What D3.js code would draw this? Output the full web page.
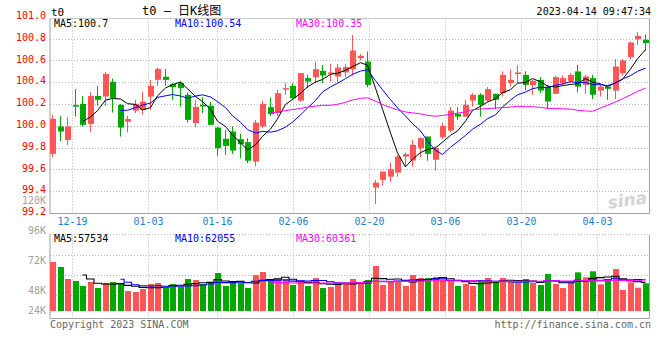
<!DOCTYPE html>
<html><head><meta charset="utf-8">
<script src="https://cdn.jsdelivr.net/npm/d3@7/dist/d3.min.js"></script>
<style>
html,body{margin:0;padding:0;background:#fff;}
svg{display:block;}
text{font-family:"DejaVu Sans Mono",monospace;font-size:10px;}
</style></head>
<body>
<svg id="c" width="660" height="360"></svg>
<script>
// ---------- data ----------
const opens  = [99.743,99.994,99.871,100.190,100.202,100.018,100.275,100.269,100.404,100.193,
  100.039,100.140,100.147,100.269,100.422,100.450,100.383,100.392,100.285,100.025,
  100.193,100.184,99.984,99.881,99.948,99.878,99.850,99.672,99.994,100.171,
  100.117,100.340,100.367,100.232,100.438,100.447,100.505,100.485,100.453,100.490,
  100.520,100.621,100.590,99.433,99.504,99.534,99.571,99.718,99.681,99.795,
  99.902,99.688,99.896,99.957,100.110,100.085,100.232,100.285,100.232,100.294,
  100.300,100.392,100.475,100.468,100.373,100.422,100.360,100.294,100.392,100.413,
  100.499,100.376,100.438,100.324,100.360,100.324,100.484,100.631,100.796,100.790];
const highs  = [100.101,100.092,100.080,100.337,100.275,100.310,100.367,100.496,100.434,100.200,
  100.092,100.239,100.312,100.422,100.535,100.520,100.392,100.404,100.306,100.236,
  100.263,100.220,99.990,99.963,99.994,99.927,99.887,100.055,100.230,100.260,
  100.330,100.392,100.392,100.484,100.468,100.588,100.560,100.570,100.567,100.565,
  100.836,100.660,100.682,99.504,99.580,99.663,99.734,99.755,99.871,99.896,
  99.902,99.810,100.030,100.171,100.171,100.239,100.300,100.300,100.355,100.294,
  100.500,100.520,100.557,100.500,100.422,100.447,100.376,100.459,100.462,100.484,
  100.560,100.468,100.468,100.376,100.360,100.612,100.612,100.774,100.863,100.836];
const lows   = [99.709,99.862,99.826,100.085,99.994,99.945,100.184,100.184,100.122,99.902,
  99.939,100.117,100.101,100.147,100.367,100.367,100.239,100.175,100.030,99.987,
  100.117,100.009,99.725,99.734,99.743,99.703,99.657,99.626,99.979,100.090,
  100.090,100.285,100.245,100.220,100.346,100.392,100.392,100.407,100.400,100.450,
  100.459,100.600,100.355,99.284,99.450,99.489,99.534,99.626,99.626,99.713,
  99.680,99.590,99.880,99.939,100.055,100.080,100.177,100.085,100.223,100.153,
  100.270,100.360,100.392,100.325,100.285,100.300,100.153,100.294,100.376,100.392,
  100.306,100.294,100.245,100.269,100.239,100.245,100.459,100.612,100.744,100.690];
const closes = [100.064,99.948,99.994,100.180,100.009,100.275,100.239,100.477,100.257,99.984,
  100.062,100.202,100.223,100.367,100.523,100.422,100.355,100.346,100.055,100.174,
  100.178,100.009,99.795,99.816,99.773,99.832,99.680,100.030,100.202,100.107,
  100.300,100.346,100.254,100.484,100.407,100.520,100.462,100.490,100.535,100.539,
  100.691,100.643,100.376,99.479,99.580,99.602,99.718,99.740,99.826,99.887,
  99.743,99.795,100.000,100.140,100.085,100.193,100.285,100.193,100.337,100.239,
  100.468,100.422,100.490,100.376,100.413,100.324,100.223,100.447,100.438,100.468,
  100.360,100.453,100.285,100.360,100.340,100.545,100.600,100.765,100.826,100.760];
const volumes = [82200,76200,61800,59400,53400,58200,51000,57000,58200,57000,
  47400,46200,49800,55800,57000,51000,55800,52200,61800,60600,
  55800,58200,69000,53400,57000,57000,51000,66600,70200,60600,
  61800,60600,54600,58200,53400,63000,51000,52200,57000,57000,
  61800,57000,60600,77400,54600,58200,58200,53400,66600,63000,
  63000,64200,60600,59400,53400,55800,53400,59400,63000,58200,
  63000,58200,57000,61800,57000,54600,67800,55800,51000,57000,
  69800,63800,71000,55400,61400,73800,48600,57800,51400,56600];

const dateLabels = ['12-19','01-03','01-16','02-06','02-20','03-06','03-20','04-03'];
const dateIndex  = [2,12,21,31,41,51,61,71];
const priceTicks = [101.0,100.8,100.6,100.4,100.2,100.0,99.8,99.6,99.4,99.2];
const volTickLabels = ['120K','96K','72K','48K','24K'];
const volTickValues = [120000,96000,72000,48000,24000];
const maPeriods = [5,10,30];
const priceLegend = ['MA5:100.7','MA10:100.54','MA30:100.35'];
const volLegend = ['MA5:57534','MA10:62055','MA30:60361'];
const titleText = 't0 \u2014 \u65e5K\u7ebf\u56fe';
const codeText = 't0';
const timeText = '2023-04-14 09:47:34';
const footLeft = 'Copyright 2023 SINA.COM';
const footRight = 'http://finance.sina.com.cn';

// ---------- layout ----------
const RED = '#ff5555', GREEN = '#00a800';
const maColors = ['#000000','#0000ff','#ff00ff'];
const L = 50, R = 649.5;
const pTop = 18.5, pBot = 213.5;
const vTop = 234.5, vBot = 318.5, vBase = 311;
const n = closes.length;

const svg = d3.select('#c');
const x = d3.scaleBand().domain(d3.range(n)).range([49.25, 649.25]).paddingInner(0.2).paddingOuter(0.1);
const xTick = d3.scaleLinear().domain([0, n-1]).range([57.1, 657.3]);
const y = d3.scaleLinear().domain([99.2, 101.0]).range([213, 16.9]);
const yV = d3.scaleLinear().domain([23400, 115800]).range([vBase, 234]);
const yVLab = d3.scaleLinear().domain([0, 120000]).range([350.5, 200.5]);
const bx = i => Math.round(x(i));
const bw = 6;

const data = d3.range(n).map(i => ({i, o:opens[i], h:highs[i], l:lows[i], c:closes[i], v:volumes[i]}));
const isUp = d => d.c >= d.o;

function ma(arr, p){ return arr.map((_, i) => i < p-1 ? null : d3.mean(arr.slice(i-p+1, i+1))); }

// ---------- grid ----------
const grid = svg.append('g').attr('stroke','#b4b4b4').attr('stroke-dasharray','1,2').attr('stroke-width',1);
priceTicks.filter(t => t < 100.95 && t > 99.25).forEach(t => {
  const yy = Math.round(y(t)) + 0.5;
  grid.append('line').attr('x1', L).attr('x2', R).attr('y1', yy).attr('y2', yy);
});
dateIndex.forEach(di => {
  const xx = Math.round(xTick(di)) + 0.5;
  grid.append('line').attr('x1', xx).attr('x2', xx).attr('y1', pTop).attr('y2', pBot);
  grid.append('line').attr('x1', xx).attr('x2', xx).attr('y1', vTop).attr('y2', vBot);
});
[vTop, 255.5, 275.5, 295.5].forEach(yy => {
  grid.append('line').attr('x1', L).attr('x2', R).attr('y1', yy).attr('y2', yy);
});

// ---------- frames ----------
const fr = svg.append('g').attr('fill','none').attr('stroke','#a0a0a0').attr('stroke-width',1);
fr.append('line').attr('x1',L).attr('x2',R).attr('y1',pTop).attr('y2',pTop).attr('stroke','#c8c8c8');
fr.append('line').attr('x1',L).attr('x2',R).attr('y1',pBot).attr('y2',pBot);
fr.append('line').attr('x1',L).attr('x2',L).attr('y1',pTop).attr('y2',pBot);
fr.append('line').attr('x1',R).attr('x2',R).attr('y1',pTop).attr('y2',pBot);
fr.append('line').attr('x1',L).attr('x2',L).attr('y1',vTop).attr('y2',vBot);
fr.append('line').attr('x1',R).attr('x2',R).attr('y1',vTop).attr('y2',vBot);
fr.append('line').attr('x1',L).attr('x2',R).attr('y1',vBot).attr('y2',vBot);

// ---------- watermark ----------
svg.append('text').attr('x', 628).attr('y', 206).attr('text-anchor','middle')
  .attr('transform','rotate(-8,628,206)')
  .style('font-family','"DejaVu Sans",sans-serif').style('font-size','17px').style('font-style','italic').style('font-weight','bold')
  .attr('fill','#d4d4d4').text('sina');

// ---------- candles ----------
const cg = svg.append('g');
cg.selectAll('rect.wick').data(data).join('rect').attr('class','wick')
  .attr('x', d => bx(d.i) + 2).attr('width', 1)
  .attr('y', d => y(d.h)).attr('height', d => Math.max(1, y(d.l) - y(d.h)))
  .attr('fill', d => isUp(d) ? RED : GREEN);
cg.selectAll('rect.body').data(data).join('rect').attr('class','body')
  .attr('x', d => bx(d.i)).attr('width', bw)
  .attr('y', d => y(Math.max(d.o, d.c)))
  .attr('height', d => Math.max(1.5, Math.abs(y(d.o) - y(d.c))))
  .attr('fill', d => isUp(d) ? RED : GREEN);

// ---------- price MAs ----------
maPeriods.forEach((p, k) => {
  const m = ma(closes, p);
  const line = d3.line().defined(v => v != null).x((v, i) => bx(i) + 2.5).y(v => y(v));
  svg.append('path').datum(m).attr('d', line).attr('fill','none').attr('stroke', maColors[k]).attr('stroke-width', 1);
});

// ---------- volume bars ----------
svg.append('g').selectAll('rect').data(data).join('rect')
  .attr('x', d => bx(d.i)).attr('width', bw)
  .attr('y', d => yV(d.v)).attr('height', d => vBase - yV(d.v))
  .attr('fill', d => isUp(d) ? RED : GREEN);

maPeriods.forEach((p, k) => {
  const m = ma(volumes, p);
  const line = d3.line().defined(v => v != null).x((v, i) => bx(i) + 2.5).y(v => yV(v)).curve(d3.curveStep);
  svg.append('path').datum(m).attr('d', line).attr('fill','none').attr('stroke', maColors[k]).attr('stroke-width', 1.1);
});

// ---------- axis labels ----------
svg.append('g').selectAll('text').data(priceTicks).join('text')
  .attr('x', 46).attr('y', d => y(d) - 1.3).attr('dy','0.35em').attr('text-anchor','end')
  .attr('fill','#ff0000').text(d => d.toFixed(1));
svg.append('g').selectAll('text').data(volTickValues).join('text')
  .attr('x', 46).attr('y', d => Math.min(yVLab(d), 310.5)).attr('dy','0.35em').attr('text-anchor','end')
  .attr('fill','#a0a0a0').text((d, i) => volTickLabels[i]);
svg.append('g').selectAll('text').data(dateIndex).join('text')
  .attr('x', d => Math.round(xTick(d)) + 0.5).attr('y', 221).attr('dy','0.35em').attr('text-anchor','middle')
  .attr('fill','#1a7fcf').text((d, i) => dateLabels[i]);

// ---------- legends / titles ----------
const legX = [54, 175, 296];
priceLegend.forEach((t, k) => svg.append('text').attr('x', legX[k]).attr('y', 23.5).attr('dy','0.35em').attr('fill', maColors[k]).text(t));
volLegend.forEach((t, k) => svg.append('text').attr('x', legX[k]).attr('y', 238.5).attr('dy','0.35em').attr('fill', maColors[k]).text(t));

svg.append('text').attr('x', 51).attr('y', 12.5).attr('dy','0.35em').attr('fill','#000').style('font-size','11px').text(codeText);
svg.append('text').attr('x', 142).attr('y', 11).attr('dy','0.35em').attr('fill','#000')
  .style('font-family','"DejaVu Sans Mono","Noto Sans CJK SC",monospace').style('font-size','12px').text(titleText);
svg.append('text').attr('x', 651).attr('y', 11).attr('dy','0.35em').attr('text-anchor','end').attr('fill','#000').text(timeText);
svg.append('text').attr('x', 50).attr('y', 324).attr('dy','0.35em').attr('fill','#666').text(footLeft);
svg.append('text').attr('x', 651).attr('y', 324).attr('dy','0.35em').attr('text-anchor','end').attr('fill','#666').text(footRight);
</script>
</body></html>
